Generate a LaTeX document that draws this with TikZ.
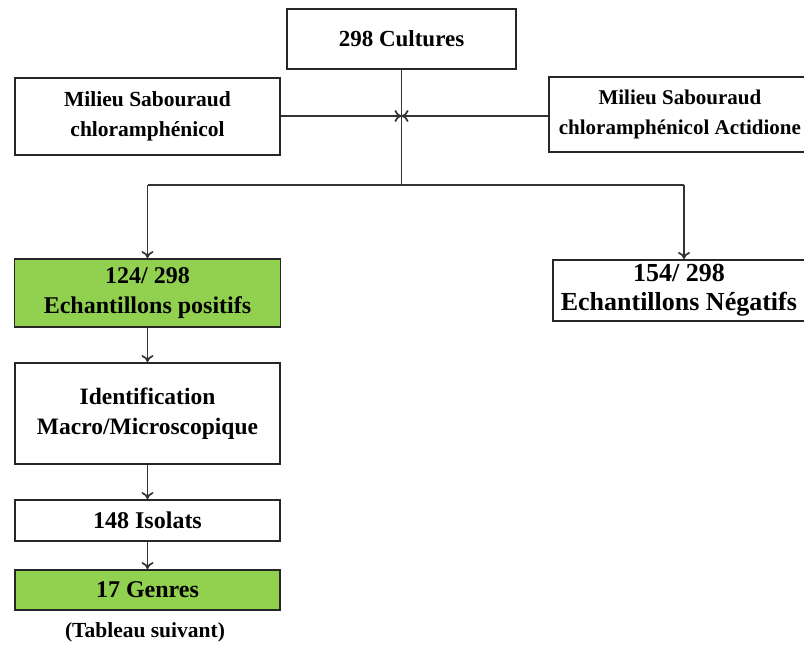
\documentclass[tikz,border=0pt]{standalone}
\usepackage{fontspec}
\setmainfont{Liberation Serif}
\usetikzlibrary{arrows.meta}
\definecolor{boxgreen}{HTML}{92D050}
\newcommand{\fs}[1]{\fontsize{#1}{29.5}\selectfont}
\begin{document}
\begin{tikzpicture}[x=1pt,y=-1pt,
  box/.style={draw=black!85, line width=1.8pt, inner sep=0pt, align=center, font=\bfseries},
  greenbox/.style={box, fill=boxgreen},
  link/.style={line width=1.7pt, draw=black!80, -{To[length=7pt,width=12pt]}},
  plain/.style={line width=1.7pt, draw=black!80}]
\useasboundingbox (0,0) rectangle (804,646);
\node[box, minimum width=229pt, minimum height=60pt, font=\bfseries\fs{23}] (cult) at (401.5,39) {298 Cultures};
\node[box, minimum width=265pt, minimum height=77pt, font=\bfseries\fs{21.5}] (msc) at (147.5,116.5) {Milieu Sabouraud\\chloramphénicol};
\node[box, minimum width=262pt, minimum height=75pt, anchor=west, font=\bfseries\fs{21}] (msca) at (548,114.5) {Milieu Sabouraud\\chloramphénicol Actidione};
\coordinate (j) at (401.5,116);
\coordinate (split) at (401.5,185);
\coordinate (sl) at (147.5,185);
\coordinate (sr) at (684,185);
\node[greenbox, minimum width=266pt, minimum height=68pt, font=\bfseries\fs{24}] (pos) at (147.5,293) {124/ 298\\Echantillons positifs};
\node[box, minimum width=252pt, minimum height=61pt, anchor=north west, font=\bfseries\fs{26}] (neg) at (552,259) {154/ 298\\Echantillons Négatifs};
\node[box, minimum width=265pt, minimum height=101pt, font=\bfseries\fs{23.5}] (ident) at (147.5,413.5) {Identification\\Macro/Microscopique};
\node[box, minimum width=265pt, minimum height=41pt, font=\bfseries\fs{24}] (iso) at (147.5,520.5) {148 Isolats};
\node[greenbox, minimum width=265pt, minimum height=40pt, font=\bfseries\fs{24}] (gen) at (147.5,590) {17 Genres};
\node[font=\bfseries\fs{21.5}, inner sep=0pt] (tab) at (145,632) {(Tableau suivant)};
\draw[plain] (cult.south) -- (split);
\draw[link] (msc.east |- j) -- (j);
\draw[link] (msca.west |- j) -- (j);
\draw[plain] (sl) -- (sr);
\draw[link] (sl) -- (pos.north);
\draw[link] (sr) -- (sr |- neg.north);
\draw[link] (pos.south) -- (ident.north);
\draw[link] (ident.south) -- (iso.north);
\draw[link] (iso.south) -- (gen.north);
\end{tikzpicture}
\end{document}
